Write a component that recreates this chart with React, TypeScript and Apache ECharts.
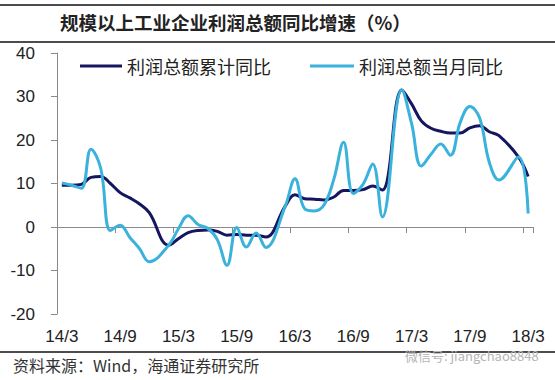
import React, { useEffect, useRef } from "react";
import * as echarts from "echarts";

const categories: string[] = [
  "14/3", "14/4", "14/5", "14/6", "14/7", "14/8", "14/9", "14/10", "14/11", "14/12",
  "15/1", "15/2", "15/3", "15/4", "15/5", "15/6", "15/7", "15/8", "15/9", "15/10", "15/11", "15/12",
  "16/1", "16/2", "16/3", "16/4", "16/5", "16/6", "16/7", "16/8", "16/9", "16/10", "16/11", "16/12",
  "17/1", "17/2", "17/3", "17/4", "17/5", "17/6", "17/7", "17/8", "17/9", "17/10", "17/11", "17/12",
  "18/1", "18/2", "18/3",
];

const cumulativeYoY: (number | null)[] = [
  9.6, 9.6, 9.8, 11.4, 11.6, 10.0, 7.9, 6.7, 5.3, 3.3,
  null, -4.2, -2.7, -1.3, -0.8, -0.7, -1.0, -1.9, -1.7, -1.9, -1.9, -2.3,
  null, 4.8, 7.4, 6.5, 6.4, 6.2, 6.9, 8.4, 8.4, 8.6, 9.4, 8.5,
  null, 31.5, 28.3, 24.4, 22.7, 22.0, 21.6, 21.6, 22.8, 23.3, 21.9, 21.0,
  null, 16.1, 11.6,
];

const monthlyYoY: (number | null)[] = [
  10.1, 9.6, 8.9, 17.9, 13.5, -0.8, 0.4, -2.4, -5.0, -8.0,
  null, -4.2, -0.4, 2.6, 0.6, -0.3, -2.9, -8.8, -0.1, -4.6, -1.4, -4.7,
  null, 4.8, 11.1, 4.2, 3.7, 5.1, 11.0, 19.5, 7.7, 9.8, 14.5, 2.3,
  null, 31.5, 23.8, 14.0, 16.7, 19.1, 16.5, 24.0, 27.7, 25.1, 14.9, 10.8,
  null, 16.1, 3.1,
];

const seriesNames = ["利润总额累计同比", "利润总额当月同比"];
const titleText = "规模以上工业企业利润总额同比增速（%）";
const sourceText = "资料来源：Wind，海通证券研究所";
const watermarkText = "微信号: jiangchao8848";

const DARK = "#15165f";
const LIGHT = "#3ab2dc";
const CJK = "'Noto Sans CJK SC', sans-serif";
const NUM = "'Liberation Sans', Arial, sans-serif";

export default function App() {
  const ref = useRef<HTMLDivElement>(null);

  useEffect(() => {
    document.body.style.margin = "0";
    if (!ref.current) return;
    const chart = echarts.init(ref.current, null, { renderer: "svg" });
    chart.setOption({
      animation: false,
      backgroundColor: "#ffffff",
      title: {
        text: titleText,
        left: 55,
        top: 8,
        textStyle: { fontFamily: CJK, fontSize: 18.5, fontWeight: "bold", color: "#222" },
      },
      legend: [
        {
          data: [seriesNames[0]],
          left: 75,
          top: 52,
          icon: "rect",
          itemWidth: 42,
          itemHeight: 3,
          itemGap: 6,
          textStyle: { fontFamily: CJK, fontSize: 18, color: "#222" },
        },
        {
          data: [seriesNames[1]],
          left: 305,
          top: 52,
          icon: "rect",
          itemWidth: 44,
          itemHeight: 3,
          itemGap: 6,
          textStyle: { fontFamily: CJK, fontSize: 18, color: "#222" },
        },
      ],
      grid: { left: 57, right: 22, top: 53, bottom: 66, containLabel: false },
      xAxis: [
        {
          type: "category",
          data: categories,
          boundaryGap: true,
          axisLine: { show: true, onZero: true, lineStyle: { color: "#8a8a8a", width: 1 } },
          axisTick: { show: true, interval: 5, length: 6, lineStyle: { color: "#8a8a8a" } },
          axisLabel: { show: false },
          splitLine: { show: false },
        },
        {
          type: "category",
          data: categories,
          position: "bottom",
          boundaryGap: true,
          axisLine: { show: false, onZero: false },
          axisTick: { show: false },
          axisLabel: {
            show: true,
            interval: 5,
            margin: 14,
            fontFamily: NUM,
            fontSize: 17,
            color: "#222",
          },
          splitLine: { show: false },
        },
      ],
      yAxis: {
        type: "value",
        min: -20,
        max: 40,
        interval: 10,
        axisLine: { show: true, lineStyle: { color: "#8a8a8a", width: 1 } },
        axisTick: { show: true, length: 6, lineStyle: { color: "#8a8a8a" } },
        axisLabel: { margin: 22, fontFamily: NUM, fontSize: 17, color: "#222" },
        splitLine: { show: false },
      },
      series: [
        {
          name: seriesNames[0],
          type: "line",
          xAxisIndex: 0,
          data: cumulativeYoY,
          smooth: 0.4,
          connectNulls: true,
          symbol: "none",
          lineStyle: { color: DARK, width: 3 },
          itemStyle: { color: DARK },
        },
        {
          name: seriesNames[1],
          type: "line",
          xAxisIndex: 0,
          data: monthlyYoY,
          smooth: 0.4,
          connectNulls: true,
          symbol: "none",
          lineStyle: { color: LIGHT, width: 3 },
          itemStyle: { color: LIGHT },
        },
      ],
      graphic: [
        { type: "line", shape: { x1: 0, y1: 5, x2: 555, y2: 5 }, style: { stroke: "#111", lineWidth: 1.5 } },
        { type: "line", shape: { x1: 0, y1: 42, x2: 555, y2: 42 }, style: { stroke: "#111", lineWidth: 1.5 } },
        { type: "line", shape: { x1: 0, y1: 352, x2: 555, y2: 352 }, style: { stroke: "#111", lineWidth: 1.5 } },
        {
          type: "text",
          left: 13,
          top: 357,
          style: { text: sourceText, fontFamily: CJK, fontSize: 16, fill: "#333" },
        },
        {
          type: "text",
          left: 405,
          top: 349,
          style: { text: watermarkText, fontFamily: CJK, fontSize: 13, fill: "#b5b5b5" },
        },
      ],
    });
    return () => chart.dispose();
  }, []);

  return <div ref={ref} style={{ width: 555, height: 380 }} />;
}
